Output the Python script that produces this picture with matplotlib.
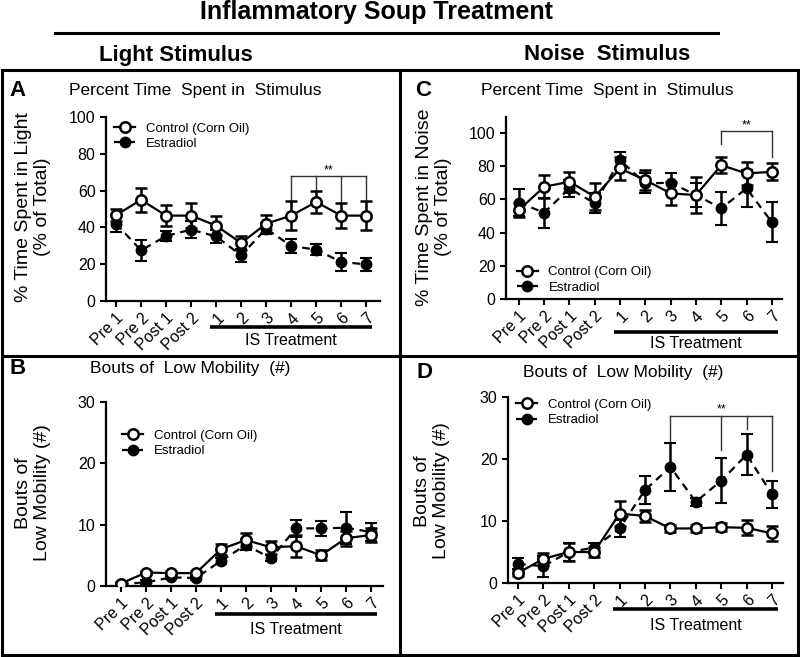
import matplotlib
matplotlib.use("Agg")
import matplotlib.pyplot as plt
from matplotlib.lines import Line2D
from matplotlib.patches import Rectangle
import matplotlib.transforms as mtransforms
import numpy as np

plt.rcParams['font.family'] = ['Liberation Sans', 'DejaVu Sans']

labels = ['Pre 1', 'Pre 2', 'Post 1', 'Post 2', '1', '2', '3', '4', '5', '6', '7']

# Panel A: Light, % time
a_ctrl = [46.6, 55.0, 46.4, 46.4, 41.0, 31.5, 42.0, 46.4, 53.8, 46.4, 46.4]
a_ctrl_err = [3.3, 6.4, 5.7, 6.6, 5.0, 3.8, 4.8, 8.0, 6.0, 6.7, 8.0]
a_estr = [42.0, 27.5, 35.3, 38.8, 35.1, 24.8, 39.3, 29.9, 27.9, 21.2, 19.9]
a_estr_err = [4.5, 5.9, 2.5, 4.5, 3.5, 3.5, 3.0, 4.0, 3.0, 5.0, 3.5]

# Panel C: Noise, % time
c_ctrl = [53.6, 67.6, 70.6, 61.6, 78.6, 71.6, 63.6, 62.6, 80.6, 75.6, 76.6]
c_ctrl_err = [4.0, 7.0, 6.0, 8.0, 7.0, 6.0, 7.0, 11.0, 5.0, 7.0, 5.0]
c_estr = [58.0, 52.0, 66.6, 57.6, 83.6, 69.6, 70.0, 62.6, 54.6, 66.6, 46.2]
c_estr_err = [8.0, 9.0, 5.0, 6.0, 5.0, 6.0, 6.0, 7.0, 10.0, 11.0, 12.0]

# Panel B: Light, bouts of low mobility
b_ctrl = [0.4, 2.2, 2.1, 2.1, 6.0, 7.5, 6.3, 6.5, 5.0, 7.8, 8.3]
b_ctrl_err = [0.2, 0.3, 0.3, 0.3, 0.9, 1.2, 1.1, 1.8, 0.8, 1.2, 1.1]
b_estr = [0.3, 0.6, 1.4, 1.3, 4.1, 6.7, 4.5, 9.4, 9.4, 9.5, 8.8]
b_estr_err = [0.2, 0.3, 0.3, 0.3, 0.5, 0.9, 0.5, 1.4, 1.2, 2.6, 1.5]

# Panel D: Noise, bouts of low mobility
d_ctrl = [1.6, 3.9, 5.0, 5.0, 11.2, 10.8, 8.8, 8.8, 9.0, 8.9, 8.0]
d_ctrl_err = [0.5, 1.0, 1.5, 0.8, 2.0, 1.0, 0.6, 0.6, 0.6, 1.2, 1.2]
d_estr = [3.1, 2.7, 5.0, 5.7, 8.8, 15.0, 18.7, 13.1, 16.5, 20.7, 14.3]
d_estr_err = [0.9, 1.7, 1.5, 0.8, 1.4, 2.2, 3.9, 0.6, 3.6, 3.3, 2.2]

W, H = 800, 657
fig = plt.figure(figsize=(W / 100, H / 100), dpi=100)

DASH = (0, (3.5, 2.5))
CTRL_STYLE = dict(color='black', lw=1.6, ls='-', marker='o', ms=7.5, mfc='white',
                  mec='black', mew=1.8)
ESTR_STYLE = dict(color='black', lw=1.6, ls=DASH, marker='o', ms=7, mfc='black',
                  mec='black', mew=1.5)


def fx(px):
    return px / W


def fy(py):
    return 1 - py / H


def make_axes(left, right, ybot, top_px):
    return fig.add_axes([fx(left), fy(ybot), fx(right - left), (ybot - top_px) / H])


def draw_panel(ax, ctrl, ctrl_err, estr, estr_err, ylim, yticks, xlim, bar_y, text_y):
    x = np.arange(len(labels))
    ax.errorbar(x, estr, yerr=estr_err, ecolor='black', elinewidth=1.8, capsize=4,
                capthick=1.8, zorder=3, **ESTR_STYLE)
    ax.errorbar(x, ctrl, yerr=ctrl_err, ecolor='black', elinewidth=1.8, capsize=4,
                capthick=1.8, zorder=4, **CTRL_STYLE)
    ax.set_ylim(*ylim)
    ax.set_xlim(*xlim)
    ax.set_yticks(yticks)
    ax.set_xticks(x)
    ax.set_xticklabels(labels, rotation=45, ha='right', rotation_mode='anchor', fontsize=11)
    ax.tick_params(axis='both', direction='out', length=4, width=1.5, labelsize=11.5)
    ax.tick_params(axis='x', pad=3)
    for s in ['top', 'right']:
        ax.spines[s].set_visible(False)
    for s in ['left', 'bottom']:
        ax.spines[s].set_linewidth(1.6)
    trans = mtransforms.blended_transform_factory(ax.transData, ax.transAxes)
    ax.plot([3.75, 10.25], [bar_y, bar_y], color='black', lw=2.6, transform=trans,
            clip_on=False, solid_capstyle='butt')
    ax.text(7.0, text_y, 'IS Treatment', transform=trans, ha='center', va='center',
            fontsize=11.5)


def bracket(ax, xs, ends, ytop, star_x):
    ax.plot([xs[0], xs[-1]], [ytop, ytop], color='#333333', lw=1, clip_on=False)
    for xv, ye in zip(xs, ends):
        ax.plot([xv, xv], [ytop, ye], color='#333333', lw=1, clip_on=False)
    ax.text(star_x, ytop, '**', ha='center', va='bottom', fontsize=9)


def add_legend(ax, loc, anchor):
    h = [Line2D([], [], **CTRL_STYLE), Line2D([], [], **ESTR_STYLE)]
    l = ['Control (Corn Oil)', 'Estradiol']
    return ax.legend(h, l, loc=loc, bbox_to_anchor=anchor, frameon=False,
                     fontsize=9.5, handlelength=1.6, handletextpad=0.8,
                     labelspacing=0.25, borderaxespad=0.0)


# Panel A
axA = make_axes(106, 380, 301, 117)
draw_panel(axA, a_ctrl, a_ctrl_err, a_estr, a_estr_err, (0, 100), range(0, 101, 20),
           (-0.4, 10.55), -0.141, -0.212)
bracket(axA, [7, 8, 9, 10], [48, 60, 53, 54], 67.8, 8.5)
add_legend(axA, 'upper left', (0.01, 1.0))

# Panel C
axC = make_axes(506, 782, 299, 117)
draw_panel(axC, c_ctrl, c_ctrl_err, c_estr, c_estr_err, (0, 109.6), range(0, 101, 20),
           (-0.51, 10.4), -0.181, -0.247)
bracket(axC, [8, 10], [93.6, 85.6], 101, 9.0)
add_legend(axC, 'lower left', (0.02, 0.0))

# Panel B
axB = make_axes(106, 383, 586, 402)
draw_panel(axB, b_ctrl, b_ctrl_err, b_estr, b_estr_err, (0, 30), range(0, 31, 10),
           (-0.6, 10.48), -0.152, -0.234)
add_legend(axB, 'upper left', (0.04, 0.88))

# Panel D
axD = make_axes(508, 783, 583, 397)
draw_panel(axD, d_ctrl, d_ctrl_err, d_estr, d_estr_err, (0, 30), range(0, 31, 10),
           (-0.39, 10.43), -0.140, -0.231)
bracket(axD, [6, 8, 9, 10], [22.6, 21.5, 24.8, 18.0], 27, 8.0)
add_legend(axD, 'upper left', (0.01, 1.02))

# Y labels
ylab_kw = dict(rotation=90, ha='center', va='center', fontsize=14,
               multialignment='center', linespacing=1.15)
fig.text(fx(33), fy(207), '% Time Spent in Light\n(% of Total)', **ylab_kw)
fig.text(fx(434), fy(207), '% Time Spent in Noise\n(% of Total)', **ylab_kw)
fig.text(fx(33), fy(493), 'Bouts of\nLow Mobility (#)', **ylab_kw)
fig.text(fx(432), fy(491), 'Bouts of\nLow Mobility (#)', **ylab_kw)

# Panel letters and titles
for letter, xl, yl in [('A', 18, 90), ('C', 423, 90), ('B', 18, 369), ('D', 424, 372)]:
    fig.text(fx(xl), fy(yl), letter, ha='center', va='center', fontsize=16, fontweight='bold')
fig.text(fx(195), fy(90), 'Percent Time  Spent in  Stimulus', ha='center', va='center', fontsize=12.5)
fig.text(fx(607), fy(90), 'Percent Time  Spent in  Stimulus', ha='center', va='center', fontsize=12.5)
fig.text(fx(190), fy(369), 'Bouts of  Low Mobility  (#)', ha='center', va='center', fontsize=12.5)
fig.text(fx(623), fy(372), 'Bouts of  Low Mobility  (#)', ha='center', va='center', fontsize=12.5)

# Headers
fig.text(fx(376), fy(12), 'Inflammatory Soup Treatment', ha='center', va='center',
         fontsize=18, fontweight='bold')
fig.add_artist(Line2D([fx(55), fx(718)], [fy(33), fy(33)], color='black', lw=2.2))
fig.text(fx(176), fy(55), 'Light Stimulus', ha='center', va='center', fontsize=16, fontweight='bold')
fig.text(fx(607), fy(55), 'Noise  Stimulus', ha='center', va='center', fontsize=16, fontweight='bold')

# Panel boxes
fig.add_artist(Rectangle((fx(2), fy(655)), fx(796), (655 - 70) / H, fill=False,
                         edgecolor='black', lw=2.2, transform=fig.transFigure))
fig.add_artist(Line2D([fx(400), fx(400)], [fy(70), fy(655)], color='black', lw=2.2))
fig.add_artist(Line2D([fx(2), fx(798)], [fy(356), fy(356)], color='black', lw=2.2))

fig.savefig('out.png', dpi=100)
